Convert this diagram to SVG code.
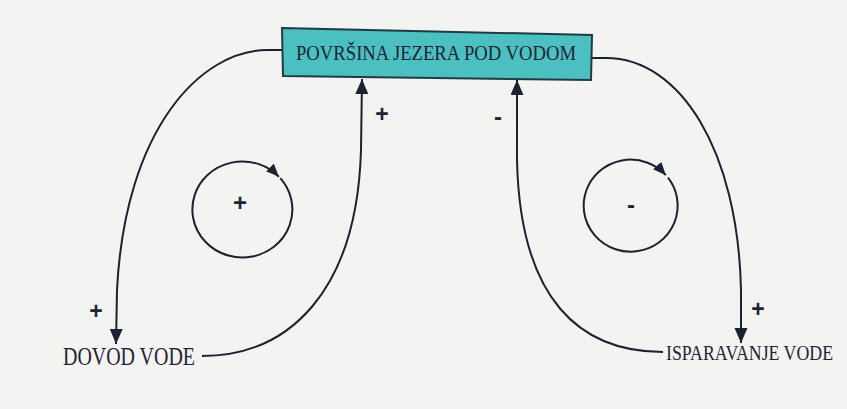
<svg xmlns="http://www.w3.org/2000/svg" width="847" height="409" viewBox="0 0 847 409">
<defs>
<style>
.ln{fill:none;stroke:#1d2232;stroke-width:2}
.lbl{font-family:"Liberation Serif","DejaVu Serif",serif;fill:#1f2535}
.sg{font-family:"Liberation Sans","DejaVu Sans",sans-serif;fill:#1f2535;text-anchor:middle;font-weight:bold}
</style>
<marker id="ah" markerUnits="userSpaceOnUse" markerWidth="16" markerHeight="14" refX="15" refY="6.5" orient="auto">
<path d="M0,0 L15,6.5 L0,13 z" fill="#1d2232"/>
</marker>
<marker id="ahs" markerUnits="userSpaceOnUse" markerWidth="14" markerHeight="12" refX="13" refY="5.5" orient="auto">
<path d="M0,0 L13,5.5 L0,11 z" fill="#1d2232"/>
</marker>
</defs>
<rect width="847" height="409" fill="#f3f3f1"/>
<g id="connectors">
<path class="ln" d="M282,50 L268,50 C200,50 125,130 117,290 L116,344" marker-end="url(#ah)"/>
<path class="ln" d="M202,356 C290,356 357,290 361,150 L362,79" marker-end="url(#ah)"/>
<path class="ln" d="M663,352 C580,352 520,300 517,160 L517,80" marker-end="url(#ah)"/>
<path class="ln" d="M592,58 L606,58 C680,58 738,150 741,290 L741,343" marker-end="url(#ah)"/>
</g>
<g id="node-povrsina">
<polygon points="282,28 592,35 591,80 283,76" fill="#4cbfc1" stroke="#1f3b44" stroke-width="2"/>
<text class="lbl" x="436" y="60" font-size="22" text-anchor="middle" textLength="280" lengthAdjust="spacingAndGlyphs">POVRŠINA JEZERA POD VODOM</text>
</g>
<g id="node-dovod">
<text class="lbl" x="63" y="365" font-size="25" textLength="132" lengthAdjust="spacingAndGlyphs">DOVOD VODE</text>
</g>
<g id="node-isparavanje">
<text class="lbl" transform="translate(666,360) scale(0.81,1)" x="0" y="0" font-size="22">ISPARAVANJE VODE</text>
</g>
<g id="loop-plus">
<path class="ln" d="M280.3,178.2 A50,48 0 1 1 278.9,176.7" marker-end="url(#ahs)"/>
<text class="sg" x="240" y="211" font-size="24" font-weight="normal">+</text>
</g>
<g id="loop-minus">
<path class="ln" d="M668,177.7 A47,46 0 1 1 665.9,175.2" marker-end="url(#ahs)"/>
<text class="sg" x="631" y="213" font-size="24">-</text>
</g>
<g id="signs">
<text class="sg" x="96" y="319" font-size="23">+</text>
<text class="sg" x="382" y="122" font-size="23">+</text>
<text class="sg" x="498" y="125" font-size="24">-</text>
<text class="sg" x="758" y="317" font-size="23">+</text>
</g>
</svg>
